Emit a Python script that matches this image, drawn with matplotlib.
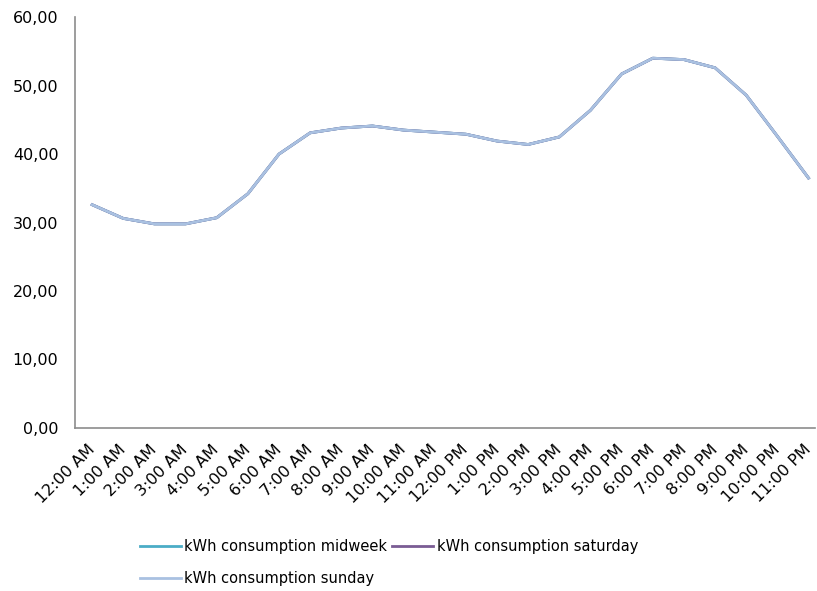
import matplotlib
matplotlib.use("Agg")
import matplotlib.pyplot as plt
import numpy as np

hours = [
    "12:00 AM", "1:00 AM", "2:00 AM", "3:00 AM", "4:00 AM", "5:00 AM",
    "6:00 AM", "7:00 AM", "8:00 AM", "9:00 AM", "10:00 AM", "11:00 AM",
    "12:00 PM", "1:00 PM", "2:00 PM", "3:00 PM", "4:00 PM", "5:00 PM",
    "6:00 PM", "7:00 PM", "8:00 PM", "9:00 PM", "10:00 PM", "11:00 PM",
]
kwh_midweek = [
    32.6, 30.6, 29.8, 29.8, 30.7, 34.2, 40.0, 43.1, 43.8, 44.1, 43.5, 43.2,
    42.9, 41.9, 41.4, 42.5, 46.4, 51.7, 54.0, 53.8, 52.6, 48.6, 42.6, 36.5,
]
kwh_saturday = list(kwh_midweek)
kwh_sunday = list(kwh_midweek)

plt.rcParams["font.family"] = ["DejaVu Sans"]
fs = 11.5

fig = plt.figure(figsize=(8.17, 5.91), dpi=100)
ax = fig.add_axes([0.092, 0.276, 0.906, 0.695])

x = np.arange(len(hours))
l1, = ax.plot(x, kwh_midweek, color="#4BACC6", linewidth=2, label="kWh consumption midweek")
l2, = ax.plot(x, kwh_saturday, color="#7A5C94", linewidth=2, label="kWh consumption saturday")
l3, = ax.plot(x, kwh_sunday, color="#A9C1E1", linewidth=2, label="kWh consumption sunday")

ax.set_xlim(-0.545, 23.22)
ax.set_ylim(0, 60)
ax.set_yticks(np.arange(0, 61, 10))
ax.set_yticklabels([f"{v:.2f}".replace(".", ",") for v in np.arange(0, 61, 10)], fontsize=fs)
ax.set_xticks(x)
ax.set_xticklabels(hours, rotation=45, ha="right", va="center",
                   rotation_mode="anchor", fontsize=fs)
ax.tick_params(axis="y", length=0, pad=12, colors="#000000")
ax.tick_params(axis="x", length=0, pad=14, colors="#000000")

for side in ("top", "right"):
    ax.spines[side].set_visible(False)
for side in ("left", "bottom"):
    ax.spines[side].set_color("#8C8C8C")
    ax.spines[side].set_linewidth(1.2)

fig.legend(
    [l1, l3, l2],
    [l1.get_label(), l3.get_label(), l2.get_label()],
    ncol=2,
    loc="upper left",
    bbox_to_anchor=(0.171, 0.088),
    frameon=False,
    fontsize=10.5,
    handlelength=2.8,
    handletextpad=0.25,
    columnspacing=0.35,
    labelspacing=1.15,
    borderaxespad=0,
    borderpad=0,
)

fig.savefig("out.png", dpi=100)
plt.close(fig)
